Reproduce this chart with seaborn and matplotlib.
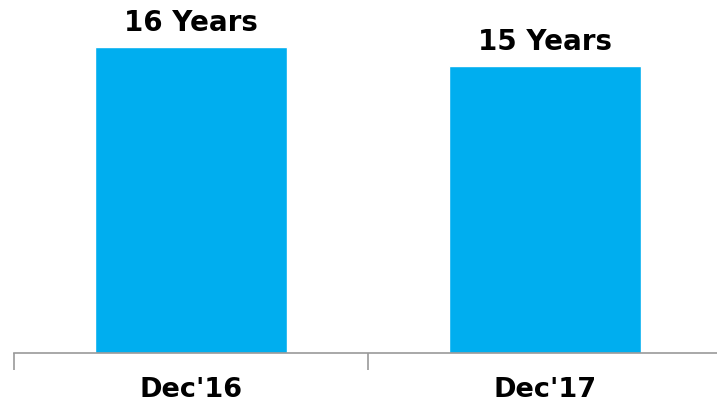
import matplotlib
matplotlib.use("Agg")
import matplotlib.pyplot as plt
import seaborn as sns
import pandas as pd
from matplotlib.ticker import FixedLocator

categories = ["Dec'16", "Dec'17"]
values = [16, 15]
labels = ["16 Years", "15 Years"]

sns.set_style("white")
plt.rcParams['font.family'] = ['DejaVu Sans']

fig = plt.figure(figsize=(7.17, 4.03), dpi=100)
ax = fig.add_axes([14/717, 1 - 353/403, 708/717, 353/403])

df = pd.DataFrame({"cat": categories, "val": values})
sns.barplot(data=df, x="cat", y="val", color="#00AEEF", saturation=1,
            width=0.545, ax=ax)

ax.set_xlim(-0.5, 1.5)
ax.set_ylim(0, 16 * 353 / 306)

for cont in ax.containers:
    ax.bar_label(cont, labels=labels, padding=7, fontsize=20,
                 fontweight='bold', color='black')

for s in ['top', 'right', 'left']:
    ax.spines[s].set_visible(False)
ax.spines['bottom'].set_color('#999999')
ax.spines['bottom'].set_linewidth(1.2)
ax.set_yticks([])
ax.set_xlabel('')
ax.set_ylabel('')
ax.xaxis.set_minor_locator(FixedLocator([-0.5, 0.5, 1.5]))
ax.tick_params(axis='x', which='major', length=0, pad=17, labelsize=19.5,
               labelcolor='black')
ax.tick_params(axis='x', which='minor', length=12, width=1.2, color='#999999',
               direction='out', bottom=True)
for t in ax.get_xticklabels():
    t.set_fontweight('bold')

fig.savefig("out.png", dpi=100)
